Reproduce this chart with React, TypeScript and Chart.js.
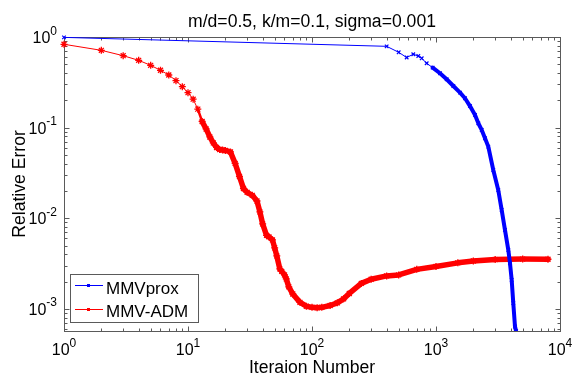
import React, { useEffect, useRef } from 'react';
import { Chart, registerables } from 'chart.js';

Chart.register(...registerables);

const TITLE = 'm/d=0.5, k/m=0.1, sigma=0.001';
const X_LABEL = 'Iteraion Number';
const Y_LABEL = 'Relative Error';
const X_TICK_EXPONENTS = [0, 1, 2, 3, 4];
const Y_TICK_EXPONENTS = [0, -1, -2, -3];
const X_MIN = 1;
const X_MAX = 10000;
const Y_MIN = 0.00057;
const Y_MAX = 1;
const SERIES_NAMES = ['MMVprox', 'MMV-ADM'];

const proxIter = [1, 400, 500, 580, 656, 720, 767, 841, 940, 1077, 1219, 1380, 1563, 1714, 1880, 2064, 2195, 2337, 2485, 2641, 2897, 3177, 3385, 3599, 3828, 3951, 4077, 4200, 4336, 4420];
const proxErr = [0.99, 0.789, 0.678, 0.594, 0.645, 0.617, 0.582, 0.513, 0.459, 0.398, 0.342, 0.288, 0.243, 0.211, 0.173, 0.138, 0.1117, 0.0943, 0.0763, 0.0617, 0.0341, 0.0205, 0.01236, 0.00743, 0.00448, 0.00319, 0.00209, 0.001156, 0.000638, 0.00057];

const admIter = [1, 2, 3, 4, 5, 6, 7, 8, 9, 10, 11, 12, 13, 14, 15, 16, 17, 18, 19, 20, 22, 24, 26, 28, 30, 33, 36, 38, 40, 43, 45, 48, 50, 52, 55, 57, 60, 62, 65, 70, 80, 90, 100, 110, 120, 140, 160, 180, 200, 250, 300, 400, 500, 700, 1000, 1500, 2000, 3000, 5000, 8000];
const admErr = [0.831, 0.713, 0.622, 0.553, 0.487, 0.429, 0.381, 0.33, 0.283, 0.243, 0.206, 0.16, 0.117, 0.0967, 0.0789, 0.0678, 0.0604, 0.0574, 0.0567, 0.056, 0.0539, 0.0403, 0.0289, 0.0213, 0.0193, 0.0179, 0.0155, 0.01175, 0.00866, 0.00647, 0.00622, 0.00577, 0.00471, 0.00384, 0.00276, 0.00259, 0.00237, 0.00214, 0.00175, 0.00146, 0.00118, 0.00107, 0.00104, 0.00103, 0.00104, 0.00109, 0.001165, 0.00129, 0.00148, 0.00191, 0.00212, 0.00231, 0.00237, 0.00273, 0.00294, 0.00322, 0.00338, 0.0035, 0.00354, 0.00353];

const BLUE = '#0000ff';
const RED = '#ff0000';
const AXIS_COLOR = '#5a5a5a';
const FONT = '"Liberation Sans", Arial, Helvetica, sans-serif';

function drawPow(ctx: CanvasRenderingContext2D, exp: string, x: number, y: number, align: 'center' | 'right', supOffset: number) {
  ctx.font = `16px ${FONT}`;
  const wb = ctx.measureText('10').width;
  ctx.font = `12px ${FONT}`;
  const we = ctx.measureText(exp).width;
  const total = wb + we;
  const left = align === 'center' ? x - total / 2 : x - total;
  ctx.textAlign = 'left';
  ctx.textBaseline = 'alphabetic';
  ctx.fillStyle = '#000';
  ctx.font = `16px ${FONT}`;
  ctx.fillText('10', left, y);
  ctx.font = `12px ${FONT}`;
  ctx.fillText(exp, left + wb, y - supOffset);
}

const matlabAxes = {
  id: 'matlabAxes',
  beforeDatasetsDraw(chart: any) {
    const { ctx, chartArea: a, scales } = chart;
    const xs = scales.x;
    const ys = scales.y;
    const L = Math.round(a.left) + 0.5;
    const R = Math.round(a.right) + 0.5;
    const T = Math.round(a.top) + 0.5;
    const B = Math.round(a.bottom) + 0.5;
    ctx.save();
    ctx.strokeStyle = AXIS_COLOR;
    ctx.lineWidth = 1;
    ctx.strokeRect(L, T, R - L, B - T);
    ctx.beginPath();
    // x ticks
    for (let d = 0; d <= 4; d++) {
      for (let m = 1; m <= 9; m++) {
        const v = m * Math.pow(10, d);
        if (v < X_MIN || v > X_MAX) continue;
        const px = Math.round(xs.getPixelForValue(v)) + 0.5;
        const len = m === 1 ? 5 : 3;
        ctx.moveTo(px, B); ctx.lineTo(px, B - len);
        ctx.moveTo(px, T); ctx.lineTo(px, T + len);
      }
    }
    // y ticks
    for (let d = -4; d <= 0; d++) {
      for (let m = 1; m <= 9; m++) {
        const v = m * Math.pow(10, d);
        if (v < Y_MIN || v > Y_MAX * 1.0001) continue;
        const py = Math.round(ys.getPixelForValue(v)) + 0.5;
        const len = m === 1 ? 5 : 3;
        ctx.moveTo(L, py); ctx.lineTo(L + len, py);
        ctx.moveTo(R, py); ctx.lineTo(R - len, py);
      }
    }
    ctx.stroke();
    ctx.restore();
  },
  afterDraw(chart: any) {
    const { ctx, chartArea: a, scales } = chart;
    const xs = scales.x;
    const ys = scales.y;
    ctx.save();
    for (const e of X_TICK_EXPONENTS) {
      const px = xs.getPixelForValue(Math.pow(10, e));
      drawPow(ctx, String(e), px, a.bottom + 24, 'center', 8.5);
    }
    for (const e of Y_TICK_EXPONENTS) {
      const py = ys.getPixelForValue(Math.pow(10, e));
      drawPow(ctx, String(e), a.left - 7, py + 6, 'right', 8.5);
    }
    const cx = (a.left + a.right) / 2;
    ctx.fillStyle = '#000';
    ctx.font = `17.6px ${FONT}`;
    ctx.textAlign = 'center';
    ctx.textBaseline = 'alphabetic';
    ctx.fillText(TITLE, cx, 27);
    ctx.fillText(X_LABEL, cx, 373);
    ctx.save();
    ctx.translate(25, (a.top + a.bottom) / 2);
    ctx.rotate(-Math.PI / 2);
    ctx.fillText(Y_LABEL, 0, 0);
    ctx.restore();

    // legend
    const bx = 70.5, by = 274.5, bw = 128, bh = 48;
    ctx.fillStyle = '#fff';
    ctx.fillRect(bx, by, bw, bh);
    ctx.strokeStyle = AXIS_COLOR;
    ctx.lineWidth = 1;
    ctx.strokeRect(bx, by, bw, bh);
    const items = [
      { name: SERIES_NAMES[0], color: BLUE, style: 'crossRot', ly: 285.5, ty: 293.5 },
      { name: SERIES_NAMES[1], color: RED, style: 'star', ly: 309.5, ty: 316.5 },
    ];
    for (const it of items) {
      ctx.strokeStyle = it.color;
      ctx.lineWidth = 1;
      ctx.beginPath();
      ctx.moveTo(75, it.ly); ctx.lineTo(103, it.ly);
      ctx.stroke();
      ctx.fillStyle = it.color;
      ctx.fillRect(87, it.ly - 1.5, 3, 3);
      ctx.fillStyle = '#000';
      ctx.font = `17px ${FONT}`;
      ctx.textAlign = 'left';
      ctx.fillText(it.name, 106, it.ty);
    }
    ctx.restore();
  },
};

export default function App() {
  const ref = useRef<HTMLCanvasElement | null>(null);
  useEffect(() => {
    if (!ref.current) return;
    const prox = proxIter.map((x, i) => ({ x, y: proxErr[i] }));
    const adm = admIter.map((x, i) => ({ x, y: admErr[i] }));
    const chart = new Chart(ref.current, {
      type: 'line',
      data: {
        datasets: [
          {
            label: SERIES_NAMES[0],
            data: prox,
            borderColor: BLUE,
            backgroundColor: BLUE,
            borderWidth: 1,
            pointStyle: 'crossRot',
            pointRadius: 2.5,
            pointBorderWidth: 1.2,
            pointBorderColor: BLUE,
            tension: 0,
            fill: false,
            clip: { left: 6, top: 6, right: 0, bottom: 0 } as any,
            borderCapStyle: 'round',
            borderJoinStyle: 'round',
            segment: {
              borderWidth: (c: any) => (c.p0.parsed.x >= 900 ? 4 : 1),
            },
          },
          {
            label: SERIES_NAMES[1],
            data: adm,
            borderColor: RED,
            backgroundColor: RED,
            borderWidth: 1,
            pointStyle: 'star',
            pointRadius: 3.5,
            pointBorderWidth: 1.3,
            pointBorderColor: RED,
            tension: 0,
            fill: false,
            clip: { left: 6, top: 6, right: 0, bottom: 0 } as any,
            borderCapStyle: 'round',
            borderJoinStyle: 'round',
            segment: {
              borderWidth: (c: any) => (c.p0.parsed.x >= 13 ? 5.5 : c.p0.parsed.x >= 12 ? 2.5 : 1),
            },
          },
        ],
      },
      options: {
        responsive: false,
        animation: false,
        devicePixelRatio: 1,
        layout: { padding: { left: 64, right: 12, top: 37, bottom: 46 } },
        plugins: {
          legend: { display: false },
          tooltip: { enabled: false },
          title: { display: false },
        },
        scales: {
          x: { type: 'logarithmic', min: X_MIN, max: X_MAX, display: false },
          y: { type: 'logarithmic', min: Y_MIN, max: Y_MAX, display: false },
        },
      },
      plugins: [matlabAxes],
    } as any);
    return () => chart.destroy();
  }, []);
  return (
    <div style={{ position: 'absolute', left: 0, top: 0, width: 572, height: 377, background: '#fff' }}>
      <canvas ref={ref} width={572} height={377} style={{ display: 'block' }} />
    </div>
  );
}
